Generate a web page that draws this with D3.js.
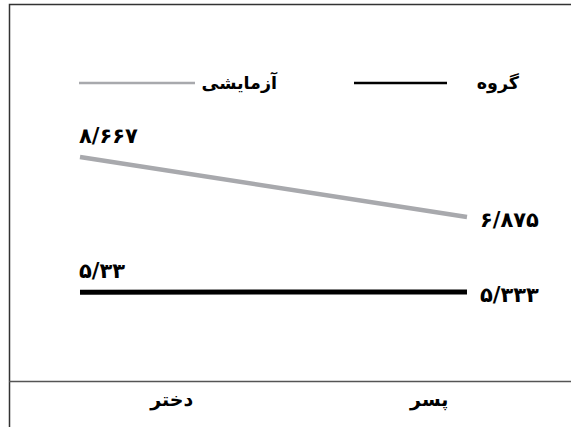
<!DOCTYPE html>
<html>
<head>
<meta charset="utf-8">
<script src="https://cdn.jsdelivr.net/npm/d3@7"></script>
<style>
  body { margin: 0; background: #fff; }
  text { font-family: "DejaVu Sans", sans-serif; font-weight: bold; fill: #000; }
</style>
</head>
<body>
<div id="chart"></div>
<script>
// categories (left to right as drawn)
const categories = ['دختر', 'پسر'];
// series
const seriesNames = ['گروه', 'آزمایشی'];
const groupValues = [5.33, 5.333];
const testValues = [8.667, 6.875];
// value labels as printed
const groupLabels = ['۵/۳۳', '۵/۳۳۳'];
const testLabels = ['۸/۶۶۷', '۶/۸۷۵'];

const W = 571, H = 427;
const svg = d3.select('#chart').append('svg')
  .attr('width', W).attr('height', H);

// frame
svg.append('path')
  .attr('d', 'M9.5,' + H + 'V4.5H' + W)
  .attr('fill', 'none').attr('stroke', '#333').attr('stroke-width', 1.5);
svg.append('line')
  .attr('x1', 9).attr('x2', W).attr('y1', 381.5).attr('y2', 381.5)
  .attr('stroke', '#555').attr('stroke-width', 1.5);

const x = d3.scalePoint().domain(categories).range([80, 467]);
const xLab = d3.scaleBand().domain(categories).range([43, 558]);
// the picture is not to a single linear scale; piecewise scale fitted to it
const y = d3.scaleLinear().domain([5.333, 6.875, 8.667]).range([292, 217, 157]);

const series = [
  { name: seriesNames[1], values: testValues, labels: testLabels, color: '#a8a9ad', width: 4.5 },
  { name: seriesNames[0], values: groupValues, labels: groupLabels, color: '#000', width: 5 },
];

const line = d3.line()
  .x((d, i) => x(categories[i]))
  .y(d => y(d));

svg.selectAll('path.series')
  .data(series)
  .enter().append('path')
  .attr('class', 'series')
  .attr('d', d => line(d.values))
  .attr('fill', 'none')
  .attr('stroke', d => d.color)
  .attr('stroke-width', d => d.width);

// value labels: left above the line, right after the end
series.forEach(s => {
  svg.append('text')
    .attr('x', x(categories[0]) - 1)
    .attr('y', y(s.values[0]) - 14)
    .attr('font-size', 21)
    .text(s.labels[0]);
  svg.append('text')
    .attr('x', x(categories[1]) + 13)
    .attr('y', y(s.values[1]) + 10)
    .attr('font-size', 21)
    .text(s.labels[1]);
});

// category labels
svg.selectAll('text.cat')
  .data(categories)
  .enter().append('text')
  .attr('class', 'cat')
  .attr('x', d => xLab(d) + xLab.bandwidth() / 2)
  .attr('y', 406)
  .attr('text-anchor', 'middle')
  .attr('font-size', 19)
  .text(d => d);

// legend
const legend = [
  { name: seriesNames[0], color: '#000', x1: 354, x2: 447, tx: 519 },
  { name: seriesNames[1], color: '#a8a9ad', x1: 79, x2: 195, tx: 277 },
];
const lg = svg.append('g').attr('class', 'legend');
lg.selectAll('line')
  .data(legend)
  .enter().append('line')
  .attr('x1', d => d.x1).attr('x2', d => d.x2)
  .attr('y1', 83).attr('y2', 83)
  .attr('stroke', d => d.color).attr('stroke-width', 2.5);
lg.selectAll('text')
  .data(legend)
  .enter().append('text')
  .attr('x', d => d.tx)
  .attr('y', 89)
  .attr('text-anchor', 'end')
  .attr('font-size', 17.5)
  .text(d => d.name);
</script>
</body>
</html>
